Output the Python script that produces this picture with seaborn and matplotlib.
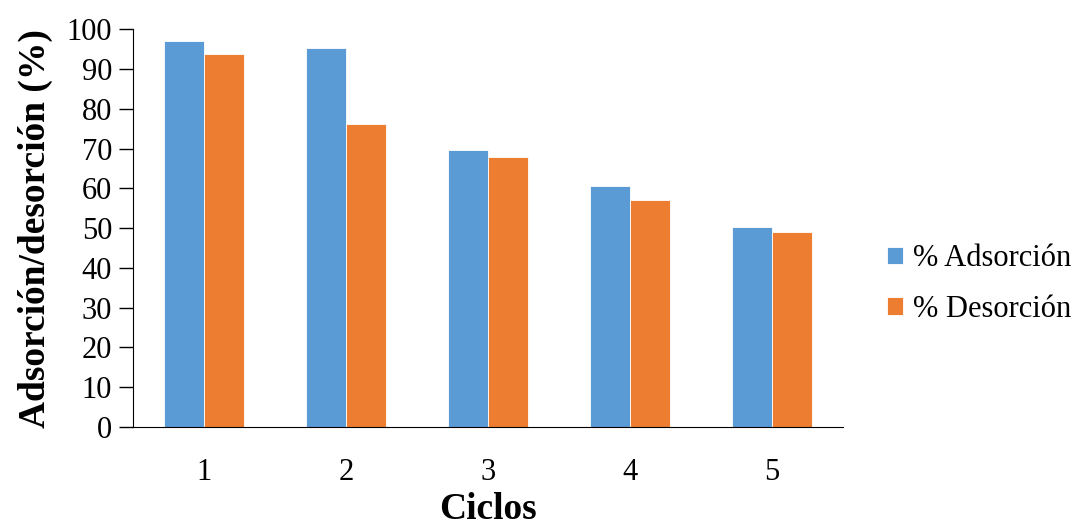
import pandas as pd
import matplotlib
matplotlib.use("Agg")
import matplotlib.pyplot as plt
import seaborn as sns

ciclos = ["1", "2", "3", "4", "5"]
adsorcion = [97.0, 95.4, 69.6, 60.5, 50.4]
desorcion = [93.7, 76.1, 67.8, 57.1, 49.1]
series = ["% Adsorción", "% Desorción"]
colores = ["#5B9BD5", "#ED7D31"]

df = pd.DataFrame({
    "Ciclos": ciclos * 2,
    "valor": adsorcion + desorcion,
    "serie": [series[0]] * len(ciclos) + [series[1]] * len(ciclos),
})

sns.set_style("white")
plt.rcParams["font.family"] = ["Liberation Serif", "DejaVu Serif"]
plt.rcParams["text.color"] = "black"
plt.rcParams["axes.labelcolor"] = "black"
plt.rcParams["xtick.color"] = "black"
plt.rcParams["ytick.color"] = "black"

fig = plt.figure(figsize=(10.82, 5.27), dpi=100)
ax = fig.add_axes([0.1229, 0.1898, 0.6562, 0.7546])

sns.barplot(data=df, x="Ciclos", y="valor", hue="serie", palette=colores,
            saturation=1, width=0.57, gap=0, edgecolor="white", linewidth=0.6, ax=ax)

ax.set_xlim(-0.5, 4.5)
ax.set_ylim(0, 100)
ax.set_yticks(range(0, 101, 10))
for s in ["top", "right"]:
    ax.spines[s].set_visible(False)
ax.spines["left"].set_color("black")
ax.spines["bottom"].set_color("black")
ax.tick_params(axis="y", direction="out", length=10, width=1, color="black",
               labelsize=22, left=True, pad=5)
ax.tick_params(axis="x", length=0, labelsize=22, pad=22)

ax.set_ylabel("Adsorción/desorción (%)", fontsize=27, fontweight="bold", labelpad=10)
ax.set_xlabel("Ciclos", fontsize=27, fontweight="bold", labelpad=4)

ax.legend(loc="center left", bbox_to_anchor=(887 / 1082, 1 - 284 / 527),
          bbox_transform=fig.transFigure, frameon=False, borderaxespad=0,
          borderpad=0, fontsize=22, handlelength=0.52, handleheight=0.52,
          handletextpad=0.33, labelspacing=0.7)

fig.savefig("out.png", dpi=100)
